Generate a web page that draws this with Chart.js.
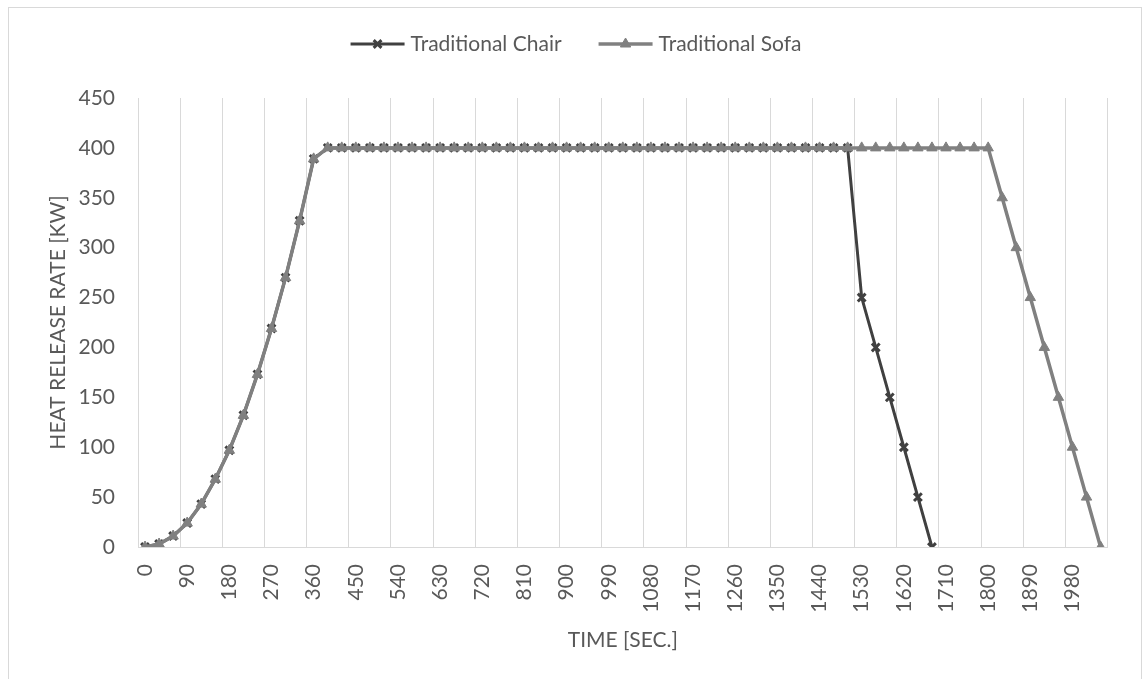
<!DOCTYPE html>
<html>
<head>
<meta charset="utf-8">
<script src="https://cdn.jsdelivr.net/npm/chart.js@4.4.1/dist/chart.umd.min.js"></script>
<style>
html,body{margin:0;padding:0;background:#ffffff;}
canvas{display:block;}
</style>
</head>
<body>
<canvas id="c" width="1143" height="679"></canvas>
<script>
// ---- data ----
const categories = [
  0,30,60,90,120,150,180,210,240,270,
  300,330,360,390,420,450,480,510,540,570,
  600,630,660,690,720,750,780,810,840,870,
  900,930,960,990,1020,1050,1080,1110,1140,1170,
  1200,1230,1260,1290,1320,1350,1380,1410,1440,1470,
  1500,1530,1560,1590,1620,1650,1680,1710,1740,1770,
  1800,1830,1860,1890,1920,1950,1980,2010,2040
];
const chairValues = [
  0,3,11,24,43,68,97,132,173,219,
  270,327,389,400,400,400,400,400,400,400,
  400,400,400,400,400,400,400,400,400,400,
  400,400,400,400,400,400,400,400,400,400,
  400,400,400,400,400,400,400,400,400,400,
  400,250,200,150,100,50,0,null,null,null,
  null,null,null,null,null,null,null,null,null
];
const sofaValues = [
  0,3,11,24,43,68,97,132,173,219,
  270,327,389,400,400,400,400,400,400,400,
  400,400,400,400,400,400,400,400,400,400,
  400,400,400,400,400,400,400,400,400,400,
  400,400,400,400,400,400,400,400,400,400,
  400,400,400,400,400,400,400,400,400,400,
  400,350,300,250,200,150,100,50,0
];
const yTickValues = [0,50,100,150,200,250,300,350,400,450];
const seriesNames = ['Traditional Chair', 'Traditional Sofa'];
const xTitle = 'TIME [SEC.]';
const yTitle = 'HEAT RELEASE RATE [KW]';
const xLabelEvery = 3;

// ---- styling ----
const FONT = 'Lato, "Liberation Sans", sans-serif';
const FS = 21;
const TEXT = '#595959';
const GRID = '#d9d9d9';
const CHAIR = '#404040';
const SOFA = '#808080';

const framePlugin = {
  id: 'frame',
  beforeDraw(chart) {
    const ctx = chart.ctx;
    ctx.save();
    ctx.fillStyle = '#ffffff';
    ctx.fillRect(0, 0, chart.width, chart.height);
    ctx.strokeStyle = GRID;
    ctx.lineWidth = 1;
    ctx.strokeRect(8.5, 7.5, 1133, 720);
    ctx.restore();
  }
};

const legendPlugin = {
  id: 'lineLegend',
  afterDraw(chart) {
    const ctx = chart.ctx;
    const sets = chart.data.datasets;
    ctx.save();
    ctx.font = FS + 'px ' + FONT;
    const sample = 54, gap = 6, itemGap = 37, cy = 44, cx = 576;
    const widths = sets.map(d => sample + gap + ctx.measureText(d.label).width);
    const total = widths.reduce((a, b) => a + b, 0) + itemGap * (sets.length - 1);
    let x = cx - total / 2;
    sets.forEach((d, i) => {
      ctx.strokeStyle = d.borderColor;
      ctx.lineWidth = d.borderWidth;
      ctx.beginPath();
      ctx.moveTo(x, cy);
      ctx.lineTo(x + sample, cy);
      ctx.stroke();
      ctx.fillStyle = d.pointBackgroundColor;
      ctx.strokeStyle = d.pointBorderColor;
      ctx.lineWidth = d.pointBorderWidth;
      if (Chart.helpers && Chart.helpers.drawPoint) {
        Chart.helpers.drawPoint(ctx, {pointStyle: d.pointStyle, radius: d.pointRadius, borderWidth: d.pointBorderWidth, rotation: 0}, x + sample / 2, cy);
      }
      ctx.fillStyle = TEXT;
      ctx.textAlign = 'left';
      ctx.textBaseline = 'middle';
      ctx.fillText(d.label, x + sample + gap, cy);
      x += widths[i] + itemGap;
    });
    ctx.restore();
  }
};

new Chart(document.getElementById('c'), {
  type: 'line',
  data: {
    labels: categories,
    datasets: [
      {
        label: seriesNames[0],
        data: chairValues,
        borderColor: CHAIR,
        borderWidth: 3,
        pointStyle: 'crossRot',
        pointRadius: 5.5,
        pointBorderWidth: 3,
        pointBackgroundColor: CHAIR,
        pointBorderColor: CHAIR,
        order: 1,
        tension: 0
      },
      {
        label: seriesNames[1],
        data: sofaValues,
        borderColor: SOFA,
        borderWidth: 3.5,
        pointStyle: 'triangle',
        pointRadius: 6,
        pointBorderWidth: 1,
        pointBackgroundColor: SOFA,
        pointBorderColor: SOFA,
        order: 0,
        tension: 0
      }
    ]
  },
  options: {
    responsive: false,
    animation: false,
    devicePixelRatio: 1,
    layout: { padding: { left: 0, right: 31, top: 98, bottom: 0 } },
    plugins: {
      legend: { display: false },
      tooltip: { enabled: false }
    },
    scales: {
      x: {
        type: 'category',
        offset: true,
        grid: {
          display: true,
          offset: true,
          drawTicks: false,
          lineWidth: 1,
          color: (c) => (c.index === undefined || c.index % xLabelEvery === 0) ? GRID : 'rgba(0,0,0,0)'
        },
        border: { display: true, color: GRID, width: 1 },
        ticks: {
          autoSkip: false,
          minRotation: 90,
          maxRotation: 90,
          padding: 17,
          color: TEXT,
          font: { family: FONT, size: FS },
          callback: (v, i) => (i % xLabelEvery === 0 ? String(categories[i]) : '')
        },
        title: {
          display: true,
          text: xTitle,
          color: TEXT,
          font: { family: FONT, size: FS },
          padding: { top: 0, bottom: 26 }
        },
        afterFit: (s) => { s.height = 132; }
      },
      y: {
        min: 0,
        max: 450,
        grid: { display: false, drawTicks: false },
        border: { display: false },
        afterBuildTicks: (s) => { s.ticks = yTickValues.map(v => ({ value: v })); },
        ticks: {
          padding: 23,
          color: TEXT,
          font: { family: FONT, size: FS }
        },
        title: {
          display: true,
          text: yTitle,
          color: TEXT,
          font: { family: FONT, size: FS },
          padding: { top: 46, bottom: 0 }
        },
        afterFit: (s) => { s.width = 138; }
      }
    }
  },
  plugins: [framePlugin, legendPlugin]
});
</script>
</body>
</html>
